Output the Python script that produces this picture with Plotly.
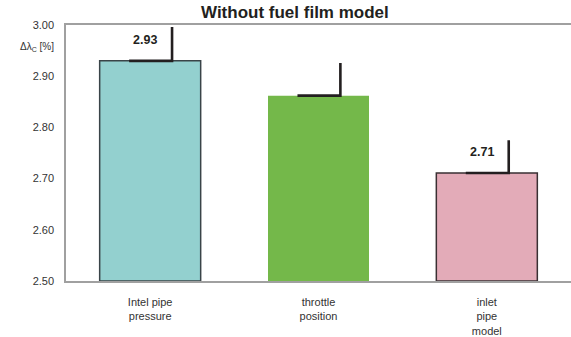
import plotly.graph_objects as go

categories = ["Intel pipe<br>pressure", "throttle<br>position", "inlet<br>pipe<br>model"]
values = [2.93, 2.862, 2.711]
errors = [0.066, 0.064, 0.064]
value_labels = ["2.93", "", "2.71"]
colors = ["#93D0CF", "#74B84A", "#E3ABB8"]
outline = ["#3A4448", "rgba(0,0,0,0)", "#3A3033"]
y_ticks = [2.5, 2.6, 2.7, 2.8, 2.9, 3.0]

xs = list(range(len(categories)))

fig = go.Figure()
fig.add_trace(go.Bar(
    x=xs, y=[v - 2.5 for v in values], base=2.5, width=0.6,
    marker=dict(color=colors, line=dict(color=outline, width=1.5)),
    hoverinfo="skip", showlegend=False,
))

ex, ey = [], []
for i, (v, e) in enumerate(zip(values, errors)):
    ex += [i - 0.125, i + 0.13, i + 0.13, None]
    ey += [v, v, v + e, None]
fig.add_trace(go.Scatter(x=ex, y=ey, mode="lines",
                         line=dict(color="#231F20", width=2.6),
                         hoverinfo="skip", showlegend=False))

for i, (v, t) in enumerate(zip(values, value_labels)):
    if t:
        fig.add_annotation(x=i - 0.03, y=v, text="<b>" + t + "</b>", showarrow=False,
                           yshift=21, yanchor="middle",
                           font=dict(size=12.5, color="#231F20"))

fig.add_annotation(xref="paper", yref="paper", x=(295 - 66) / 505, y=1,
                   yanchor="middle", yshift=13, text="<b>Without fuel film model</b>",
                   showarrow=False, font=dict(size=17, color="#231F20"))
fig.add_annotation(xref="paper", yref="paper", x=-0.02, xanchor="right", y=1,
                   yanchor="middle", yshift=-22,
                   text="Δλ<sub>C</sub> [%]", showarrow=False,
                   font=dict(size=10, color="#333333"))

fig.update_layout(
    width=571, height=337,
    margin=dict(l=66, r=0, t=25, b=56),
    paper_bgcolor="white", plot_bgcolor="white",
    font=dict(family="Liberation Sans, Arial, sans-serif", color="#333333"),
    xaxis=dict(range=[-0.5, 2.5], tickvals=xs, ticktext=categories,
               showline=True, linecolor="#A0A0A0", linewidth=1.5, mirror=True,
               showgrid=False, zeroline=False, ticks="", tickfont=dict(size=11),
               ticklabelstandoff=10),
    yaxis=dict(range=[2.5, 3.0], tickvals=y_ticks, tickformat=".2f",
               showline=True, linecolor="#A0A0A0", linewidth=1.5,
               showgrid=False, zeroline=False, ticks="", tickfont=dict(size=11),
               ticklabelstandoff=8),
)

fig.write_html("out.html", config={"displayModeBar": False},
               post_script="document.body.style.margin='0';document.body.style.overflow='hidden';")
